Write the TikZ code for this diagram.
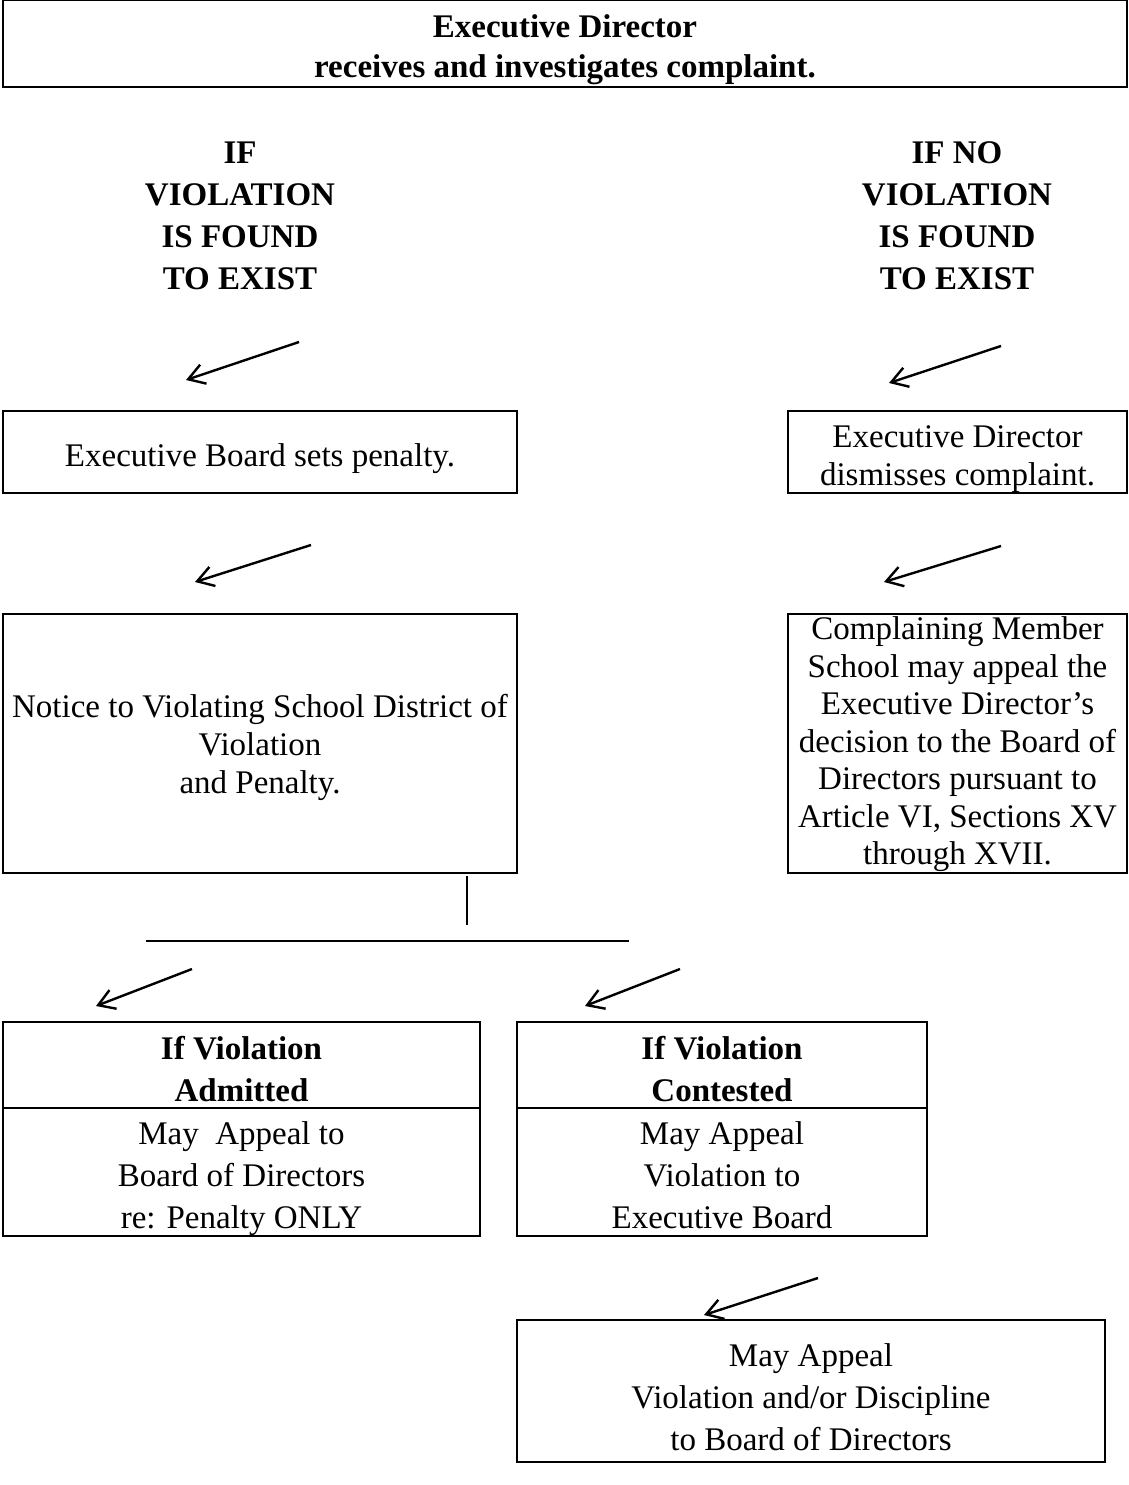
\documentclass[tikz,border=0pt]{standalone}
\usepackage{fontspec}
\setmainfont{Liberation Serif}
\usetikzlibrary{arrows.meta}
\newcommand\padT[1]{\rule{0pt}{#1pt}}
\newcommand\padB[1]{\rule[-#1pt]{0pt}{#1pt}}
\begin{document}
\begin{tikzpicture}[x=1pt,y=-1pt,
  box/.style={draw,line width=2.2pt,rectangle,inner sep=0pt,align=center,
    font=\fontsize{33}{38}\selectfont},
  loose/.style={font=\fontsize{33}{42}\selectfont},
  bold/.style={font=\fontsize{33}{42}\selectfont\bfseries},
  lbl/.style={inner sep=0pt,align=center,font=\fontsize{33}{42}\selectfont\bfseries},
  arr/.style={line width=2.4pt,-{Straight Barb[length=16pt,width=20pt,line width=2.4pt]}},
  rule/.style={line width=2.2pt}]
\useasboundingbox (0,0) rectangle (1129,1485);
% title
\node[box,minimum width=1124pt,minimum height=87pt,font=\fontsize{33}{40}\selectfont\bfseries] (title) at (565,43.5)
  {\padT{37}Executive Director\\receives and investigates complaint.\padB{8}};
% condition labels
\node[lbl] (ifyes) at (240,216) {IF\\VIOLATION\\IS FOUND\\TO EXIST};
\node[lbl] (ifno) at (957,216) {IF NO\\VIOLATION\\IS FOUND\\TO EXIST};
% second row
\node[box,minimum width=514pt,minimum height=82pt] (penalty) at (260,452) {\padT{36}Executive Board sets penalty.\padB{8}};
\node[box,minimum width=339pt,minimum height=82pt] (dismiss) at (957.5,452) {\padT{37}Executive Director\\dismisses complaint.\padB{7}};
% third row
\node[box,minimum width=514pt,minimum height=259pt] (notice) at (260,743.5)
  {\padT{32}Notice to Violating School District of\\Violation\\and Penalty.\padB{8}};
\node[box,minimum width=339pt,minimum height=259pt,font=\fontsize{33}{37.5}\selectfont] (complain) at (957.5,743.5)
  {\padT{25}Complaining Member\\School may appeal the\\Executive Director’s\\decision to the Board of\\Directors pursuant to\\Article VI, Sections XV\\through XVII.\padB{8}};
% split boxes
\node[box,bold,minimum width=477pt,minimum height=86pt] (admH) at (241.5,1065) {\padT{37}If Violation\\Admitted\padB{7}};
\node[box,loose,minimum width=477pt,minimum height=128pt] (admB) at (241.5,1172) {\padT{36}May\ \ Appeal to\\Board of Directors\\re: Penalty ONLY\padB{8}};
\node[box,bold,minimum width=410pt,minimum height=86pt] (conH) at (722,1065) {\padT{37}If Violation\\Contested\padB{7}};
\node[box,loose,minimum width=410pt,minimum height=128pt] (conB) at (722,1172) {\padT{36}May Appeal\\Violation to\\Executive Board\padB{8}};
% final
\node[box,loose,minimum width=588pt,minimum height=142pt] (final) at (811,1391)
  {\padT{43}May Appeal\\Violation and/or Discipline\\to Board of Directors\padB{8}};
% arrow end points
\coordinate (a1s) at (299,342); \coordinate (a1e) at (186,380);
\coordinate (a2s) at (1001,346); \coordinate (a2e) at (889,383);
\coordinate (a3s) at (311,545); \coordinate (a3e) at (195,582);
\coordinate (a4s) at (1001,546); \coordinate (a4e) at (884,582);
\coordinate (a5s) at (192,969); \coordinate (a5e) at (96,1006);
\coordinate (a6s) at (680,969); \coordinate (a6e) at (585,1006);
\coordinate (a7s) at (818,1278); \coordinate (a7e) at (704,1315);
\coordinate (vtop) at (467,876); \coordinate (vbot) at (467,925);
\coordinate (hl) at (146,941); \coordinate (hr) at (629,941);
\draw[arr] (a1s) -- (a1e);
\draw[arr] (a2s) -- (a2e);
\draw[arr] (a3s) -- (a3e);
\draw[arr] (a4s) -- (a4e);
\draw[arr] (a5s) -- (a5e);
\draw[arr] (a6s) -- (a6e);
\draw[arr] (a7s) -- (a7e);
\draw[line width=1.4pt] (vtop) -- (vbot);
\draw[rule] (hl) -- (hr);
\end{tikzpicture}
\end{document}
